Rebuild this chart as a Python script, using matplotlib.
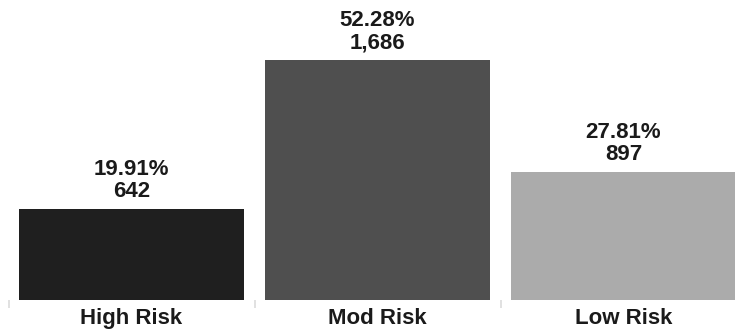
import matplotlib
matplotlib.use("Agg")
import matplotlib.pyplot as plt

categories = ["High Risk", "Mod Risk", "Low Risk"]
counts = [642, 1686, 897]
percents = [19.91, 52.28, 27.81]
colors = ["#1f1f1f", "#4f4f4f", "#ababab"]

plt.rcParams["font.family"] = ["Liberation Sans", "DejaVu Sans"]

W, H = 735, 330
fig = plt.figure(figsize=(W / 100, H / 100), dpi=100)
# axes slightly wider than the canvas so the last band runs off the right edge
ax = fig.add_axes([8.5 / W, 30 / H, 738 / W, 300 / H])

x = list(range(len(categories)))
bars = ax.bar(x, counts, width=0.915, color=colors, linewidth=0)

ax.set_xlim(-0.5, 2.5)
ax.set_ylim(0, max(counts) * 300 / 240)

for spine in ax.spines.values():
    spine.set_visible(False)
ax.set_yticks([])
ax.set_xticks(x)
ax.set_xticklabels(categories, fontsize=16, fontweight="bold", color="#1a1a1a")
ax.tick_params(axis="x", which="major", length=0, pad=6)
ax.set_xticks([-0.5, 0.5, 1.5, 2.5], minor=True)
ax.tick_params(axis="x", which="minor", length=6, width=1.2, color="#dcdcdc", pad=0)

for xi, c, p in zip(x, counts, percents):
    ax.annotate(f"{c:,}", (xi, c), xytext=(0, 12), textcoords="offset pixels",
                ha="center", va="baseline", fontsize=16, fontweight="bold",
                color="#1a1a1a")
    ax.annotate(f"{p:.2f}%", (xi, c), xytext=(0, 34), textcoords="offset pixels",
                ha="center", va="baseline", fontsize=16, fontweight="bold",
                color="#1a1a1a")

fig.savefig("out.png", dpi=100)
